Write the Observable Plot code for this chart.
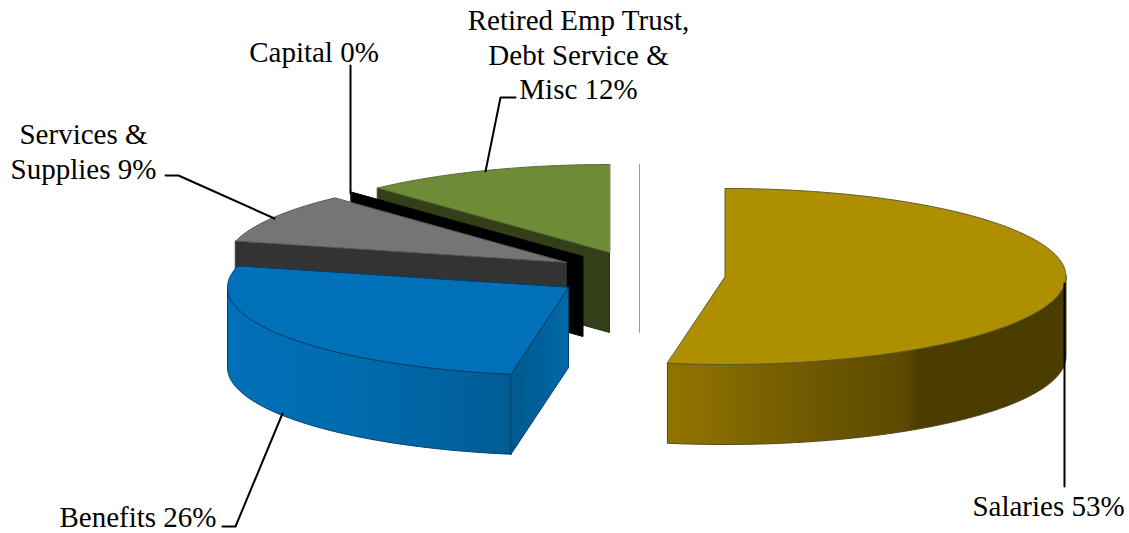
<!DOCTYPE html>
<html>
<head>
<meta charset="utf-8">
<script src="https://cdn.jsdelivr.net/npm/d3@7"></script>
<script src="https://cdn.jsdelivr.net/npm/@observablehq/plot@0.6"></script>
<style>html,body{margin:0;padding:0;background:#fff}svg{display:block}</style>
</head>
<body>
<div id="chart"></div>
<script>
// Data
const categories = ["Salaries", "Benefits", "Services &\nSupplies", "Capital", "Retired Emp Trust,\nDebt Service &\nMisc", ""];
const values = [52.7, 26.2, 9.2, 0, 11.9, 0];

// Layout of the exploded slices (page pixels)
const centerX = [724.5, 568, 566, 582.5, 609, 639];
const centerY = [276, 287, 262, 256, 252, 252];
const radiusX = 341, radiusY = 88, depth = 80;

// Styles
const topFill = ["#ad8f00", "#0070b8", "#757575", "#000000", "#6e8b37", "#999999"];
const topStroke = ["#5f5a2c", "#003f6a", "#555555", "#000000", "#5a6b3a", "#999999"];
const cutFill = ["none", "url(#blueCut)", "#333333", "#000000", "#333f17", "#999999"];
const cutStroke = ["none", "#003f6a", "#2a2a2a", "#000000", "#2a3312", "#999999"];

// Labels and leaders
const labelX = [1048, 137.5, 83, 313.5, 578];
const labelY = [504, 515.5, 149.5, 50, 53];
const leaders = [
  [[1064, 283], [1064, 486]],
  [[282, 413], [235, 526], [222, 526]],
  [[274, 218], [178, 175], [165, 175]],
  [[350, 193], [350, 65]],
  [[485, 171], [500, 97], [515, 97]]
];

const total = d3.sum(values);
const angles = d3.cumsum([0, ...values]).map(v => v / total * 2 * Math.PI);

const pt = (i, a, dz = 0) => ({
  x: centerX[i] + radiusX * Math.sin(a),
  y: centerY[i] - radiusY * Math.cos(a) + dz
});
const arc = (i, a0, a1, dz = 0) => {
  const n = Math.max(2, Math.ceil(Math.abs(a1 - a0) / 0.01));
  return d3.range(n + 1).map(k => pt(i, a0 + (a1 - a0) * k / n, dz));
};
const center = (i, dz = 0) => ({x: centerX[i], y: centerY[i] + dz});

const poly = (pts, fill, stroke, strokeWidth = 1) =>
  Plot.line(pts, {x: "x", y: "y", fill, stroke, strokeWidth, curve: "linear-closed"});

const topFace = i => poly([center(i), ...arc(i, angles[i], angles[i + 1])], topFill[i], topStroke[i]);
// radial cut wall running from the rim at angle a to the slice centre
const cutWall = (i, a) => poly(
  [pt(i, a), center(i), center(i, depth), pt(i, a, depth)], cutFill[i], cutStroke[i]);
// outer rim wall between two angles
const rimWall = (i, a0, a1, fill, stroke) => poly(
  [...arc(i, a0, a1), ...arc(i, a1, a0, depth)], fill, stroke);

const stops = (id, list) => {
  const g = d3.create("svg:linearGradient").attr("id", id);
  for (const [o, c] of list) g.append("stop").attr("offset", o).attr("stop-color", c);
  return g.node();
};
const defs = () => {
  const d = d3.create("svg:defs");
  d.append(() => stops("goldRim", [[0, "#917300"], [0.1, "#8a6e00"], [0.25, "#7a6100"], [0.45, "#675200"], [0.6, "#5c4900"], [0.63, "#4b3c00"], [1, "#4b3c00"]]));
  d.append(() => stops("blueRim", [[0, "#0070b8"], [0.4, "#006cb0"], [0.75, "#0063a1"], [1, "#005c94"]]));
  d.append(() => stops("blueCut", [[0, "#00598f"], [1, "#0068a8"]]));
  return d.node();
};

const labels = categories.slice(0, 5).map((c, i) => ({
  text: `${c} ${Math.round(values[i])}%`,
  x: labelX[i],
  y: labelY[i]
}));

const P = {zero: 5, retired: 4, capital: 3, services: 2, benefits: 1, salaries: 0};

const chart = Plot.plot({
  width: 1129,
  height: 533,
  margin: 0,
  style: {background: "#fff"},
  x: {domain: [0, 1129], range: [0, 1129], axis: null},
  y: {domain: [0, 533], range: [0, 533], axis: null},
  marks: [
    defs,
    cutWall(P.zero, angles[P.zero]),
    cutWall(P.retired, angles[P.retired]),
    topFace(P.retired),
    cutWall(P.capital, angles[P.capital]),
    cutWall(P.services, angles[P.services]),
    topFace(P.services),
    rimWall(P.benefits, angles[P.benefits], 1.5 * Math.PI, "url(#blueRim)", "#003f6a"),
    cutWall(P.benefits, angles[P.benefits]),
    topFace(P.benefits),
    rimWall(P.salaries, 0.5 * Math.PI, angles[P.salaries + 1], "url(#goldRim)", "#4f4a22"),
    topFace(P.salaries),
    ...leaders.map(l => Plot.line(l.map(([x, y]) => ({x, y})), {x: "x", y: "y", stroke: "#000", strokeWidth: 2})),
    Plot.text(labels, {
      x: "x", y: "y", text: "text",
      fontFamily: "Liberation Serif",
      fontSize: 29,
      lineHeight: 1.2,
      textAnchor: "middle",
      fill: "#000"
    })
  ]
});
document.getElementById("chart").append(chart);
</script>
</body>
</html>
